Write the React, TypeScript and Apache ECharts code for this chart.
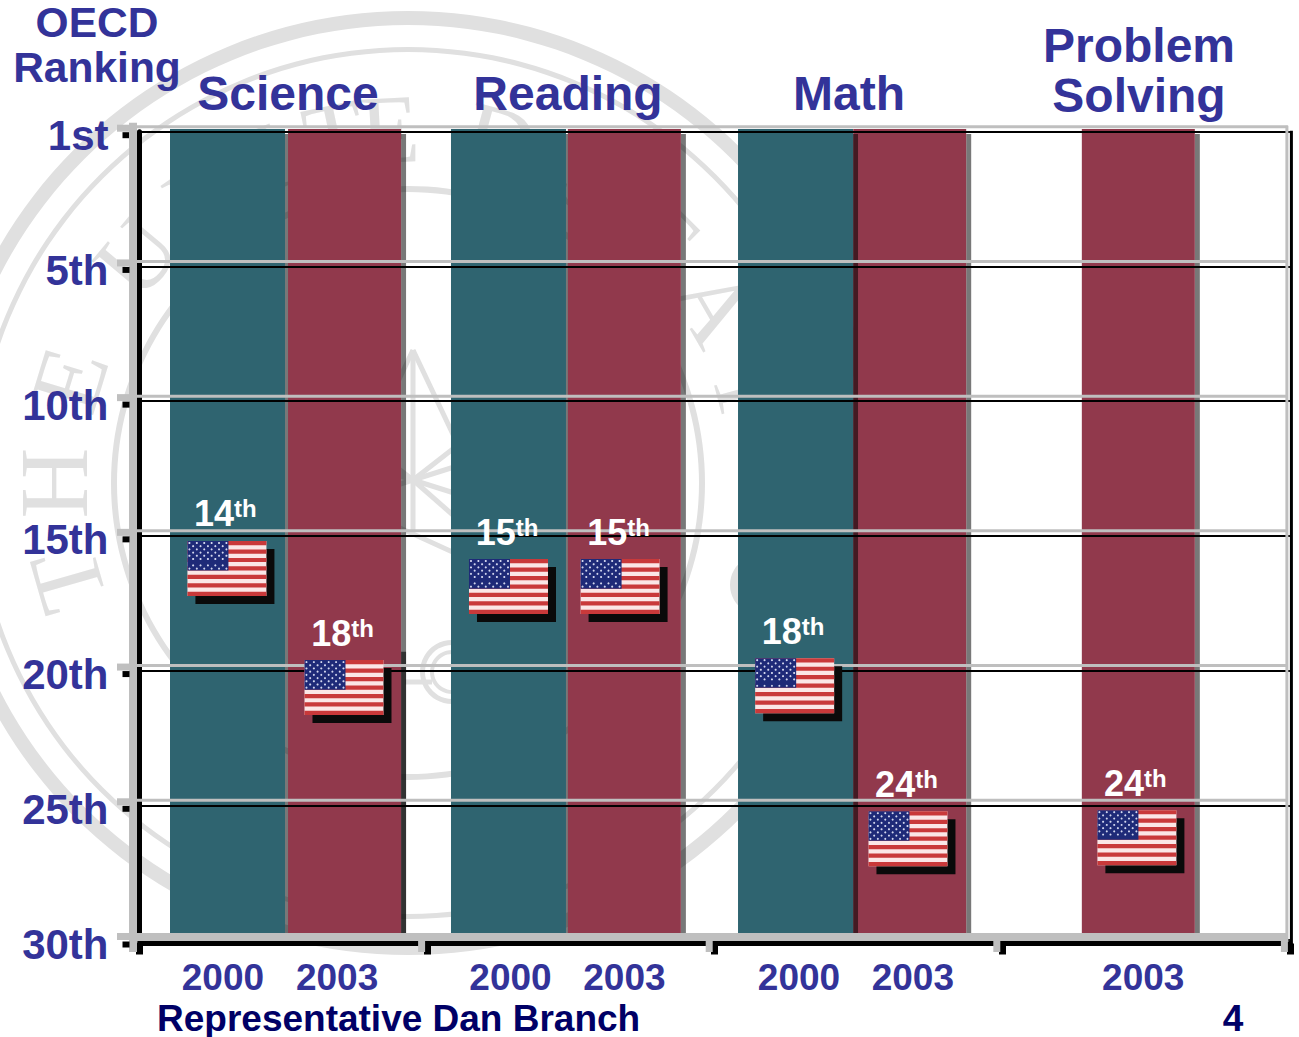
import React, { useEffect, useRef } from "react";
import * as echarts from "echarts";

const yTickValues = [0, 5, 10, 15, 20, 25, 30];
const yTickLabels = ["1st", "5th", "10th", "15th", "20th", "25th", "30th"];
const subjects = ["Science", "Reading", "Math"];
const subjectLast = ["Problem", "Solving"];
const axisHeading = ["OECD", "Ranking"];
const footerName = "Representative Dan Branch";
const footerPage = "4";

// x is measured in subject groups: 0..4 across the axis
const barYears = [2000, 2003, 2000, 2003, 2003, 2000, 2003];
const barX = [0.306, 0.713, 1.283, 1.686, 2.678, 2.281, 3.473];
const barDarkFrom = [null, 19.3, null, null, null, null, null];

const yearLabels = ["2000", "2003", "2000", "2003", "2000", "2003", "2003"];
const yearLabelX = [0.29, 0.687, 1.29, 1.686, 2.293, 2.689, 3.49];
const groupBounds = [0, 1, 2, 3, 4];

const rankLabels = [14, 18, 15, 15, 18, 24, 24];
const flagX = [0.304, 0.711, 1.283, 1.671, 2.278, 2.672, 3.468];
const flagRankPos = [15.19, 19.61, 15.86, 15.86, 19.54, 25.22, 25.18];

const sealLetters = [
  ["T", -106], ["H", -90], ["E", -73], ["U", -50], ["N", -35], ["I", -23], ["T", -12], ["E", -3], ["D", 15],
  ["S", 31], ["T", 45], ["A", 60], ["T", 75],
] as [string, number][];

const NAVY = "#333399";
const FOOT = "#000066";
const GRAY = "#bfbfbf";
const TEAL = "#2f6470";
const MAROON = "#91394c";
const SEAL = "#e0e0e0";
const FONT = '"Liberation Sans", Arial, sans-serif';

function renderBar(params: any, api: any) {
  const x = api.value(0);
  const i = params.dataIndex;
  const year = barYears[i];
  const c = api.coord([x, 0]);
  const b = api.coord([x, 30]);
  const w = year === 2000 ? 115 : 113;
  const left = c[0] - w / 2;
  const top = c[1] - 2.7;
  const children: any[] = [
    { type: "rect", shape: { x: left + w, y: top + 5, width: 5, height: b[1] - top - 5 }, style: { fill: "rgba(0,0,0,0.53)" } },
    { type: "rect", shape: { x: left, y: top, width: w, height: b[1] - top }, style: { fill: year === 2000 ? TEAL : MAROON } },
  ];
  const dark = barDarkFrom[i];
  if (dark != null) {
    const d = api.coord([x, dark]);
    children.unshift({ type: "rect", shape: { x: left + w, y: d[1], width: 5, height: b[1] - d[1] }, style: { fill: "rgba(0,0,0,0.58)" } });
  }
  return { type: "group", children };
}

function renderFrame(params: any, api: any) {
  const v = api.value(0);
  const p = api.coord([0, v]);
  const right = api.coord([4, v]);
  const children: any[] = [];
  const y = p[1];
  if (v < 30) {
    children.push({ type: "line", shape: { x1: 137, y1: y - 5, x2: right[0] - 2, y2: y - 5 }, style: { stroke: GRAY, lineWidth: 3 } });
  }
  children.push({ type: "rect", shape: { x: 122.5, y: y + 0.5 + (v === 30 ? 1 : 0), width: 7, height: 6 }, style: { fill: "#000" } });
  children.push({ type: "rect", shape: { x: 117, y: y - 7, width: 14, height: 7 }, style: { fill: GRAY } });
  if (params.dataIndex === 0) {
    const bottom = api.coord([0, 30])[1];
    children.push({ type: "rect", shape: { x: 129, y: y - 9, width: 8, height: bottom - y + 21 }, style: { fill: GRAY } });
    children.push({ type: "rect", shape: { x: 131, y: bottom - 7, width: right[0] - 131 - 2, height: 8 }, style: { fill: GRAY } });
    children.push({ type: "line", shape: { x1: right[0] - 3, y1: y - 6, x2: right[0] - 3, y2: bottom + 2 }, style: { stroke: GRAY, lineWidth: 3 } });
    children.push({ type: "line", shape: { x1: right[0] + 1.5, y1: y - 1, x2: right[0] + 1.5, y2: bottom + 8 }, style: { stroke: "#000", lineWidth: 3 } });
    for (const g of groupBounds.slice(1)) {
      const gx = api.coord([g, 30])[0];
      children.push({ type: "rect", shape: { x: gx - 9, y: bottom, width: 7, height: 12 }, style: { fill: GRAY } });
    }
  }
  return { type: "group", children };
}

function renderFlag(params: any, api: any) {
  const c = api.coord([api.value(0), api.value(1)]);
  const W = 79;
  const H = 55;
  const left = c[0] - W / 2;
  const top = c[1];
  const children: any[] = [
    { type: "rect", shape: { x: left + 8, y: top + 8, width: W, height: H }, style: { fill: "#0a0a0a" } },
    { type: "rect", shape: { x: left, y: top, width: W, height: H }, style: { fill: "#fbe6e6" } },
  ];
  const sh = H / 13;
  for (let s = 0; s < 13; s += 2) {
    children.push({ type: "rect", shape: { x: left, y: top + s * sh, width: W, height: sh }, style: { fill: "#c9393a" } });
  }
  const cw = 41;
  const ch = sh * 7;
  children.push({ type: "rect", shape: { x: left, y: top, width: cw, height: ch }, style: { fill: "#1e2a78" } });
  for (let r = 0; r < 9; r++) {
    for (let k = 0; k < 11; k++) {
      if ((r + k) % 2 === 0) {
        children.push({
          type: "circle",
          shape: { cx: left + 2 + (k * (cw - 4)) / 10, cy: top + 2 + (r * (ch - 4)) / 8, r: 1.05 },
          style: { fill: "#d3d7ee" },
        });
      }
    }
  }
  children.push({
    type: "text",
    x: c[0] - 1.5,
    y: top - 10,
    style: {
      text: `{d|${rankLabels[params.dataIndex]}}{s|th}`,
      textAlign: "center",
      textVerticalAlign: "bottom",
      rich: {
        d: { fontSize: 36, fontWeight: "bold", fontFamily: FONT, fill: "#fff", lineHeight: 34 },
        s: { fontSize: 24, fontWeight: "bold", fontFamily: FONT, fill: "#fff", lineHeight: 34, verticalAlign: "top" },
      },
    },
  });
  return { type: "group", children };
}

function sealElements() {
  const cx = 408;
  const cy = 483;
  const els: any[] = [
    { type: "ring", shape: { cx, cy, r: 472, r0: 458 }, style: { fill: SEAL } },
    { type: "ring", shape: { cx, cy, r: 436, r0: 431 }, style: { fill: SEAL } },
    { type: "ring", shape: { cx, cy, r: 297, r0: 291 }, style: { fill: SEAL } },
  ];
  for (const [ch, deg] of sealLetters) {
    const a = (deg * Math.PI) / 180;
    els.push({
      type: "text",
      x: cx + 354 * Math.sin(a),
      y: cy - 354 * Math.cos(a),
      rotation: -a,
      style: { text: ch, fill: SEAL, fontSize: 98, fontFamily: '"Liberation Serif", serif', textAlign: "center", textVerticalAlign: "middle" },
    });
  }
  const st = { stroke: SEAL, lineWidth: 5, fill: "none" };
  els.push({ type: "polyline", shape: { points: [[413, 350], [458, 445], [413, 480], [368, 445], [413, 350]] }, style: st });
  els.push({ type: "line", shape: { x1: 413, y1: 350, x2: 413, y2: 530 }, style: st });
  els.push({ type: "line", shape: { x1: 413, y1: 480, x2: 470, y2: 462 }, style: st });
  els.push({ type: "line", shape: { x1: 413, y1: 480, x2: 470, y2: 498 }, style: st });
  els.push({ type: "line", shape: { x1: 413, y1: 480, x2: 356, y2: 462 }, style: st });
  els.push({ type: "line", shape: { x1: 413, y1: 480, x2: 356, y2: 498 }, style: st });
  els.push({ type: "line", shape: { x1: 413, y1: 480, x2: 470, y2: 530 }, style: st });
  els.push({ type: "line", shape: { x1: 400, y1: 528, x2: 470, y2: 560 }, style: st });
  els.push({ type: "ring", shape: { cx: 452, cy: 672, r: 32, r0: 27 }, style: { fill: SEAL } });
  els.push({ type: "ring", shape: { cx: 452, cy: 672, r: 22, r0: 18 }, style: { fill: SEAL } });
  els.push({ type: "line", shape: { x1: 405, y1: 682, x2: 432, y2: 682 }, style: st });
  els.push({ type: "ring", shape: { cx: 760, cy: 585, r: 30, r0: 20 }, style: { fill: SEAL } });
  return els.map((e) => ({ ...e, z: -1, silent: true }));
}

function heading(text: string, cx: number, y: number, size: number, color = NAVY, align = "center") {
  return {
    type: "text",
    x: cx,
    y,
    z: 20,
    style: { text, fill: color, fontSize: size, fontWeight: "bold", fontFamily: FONT, textAlign: align, textVerticalAlign: "middle" },
  };
}

export default function App() {
  const ref = useRef<HTMLDivElement>(null);
  useEffect(() => {
    const chart = echarts.init(ref.current!, null, { renderer: "svg" });
    chart.setOption({
      animation: false,
      backgroundColor: "#fff",
      tooltip: { show: false },
      grid: { left: 139.5, top: 131.7, width: 1150.4, height: 808.3, containLabel: false },
      xAxis: {
        type: "value",
        min: 0,
        max: 4,
        interval: 1,
        offset: 3.5,
        z: 5,
        axisLine: { show: true, onZero: false, lineStyle: { color: "#000", width: 5 } },
        axisTick: { show: true, customValues: groupBounds, length: 11, lineStyle: { color: "#000", width: 7 } },
        axisLabel: {
          customValues: yearLabelX,
          formatter: (v: number) => yearLabels[yearLabelX.indexOf(v)],
          color: NAVY,
          fontSize: 37,
          fontWeight: "bold",
          fontFamily: FONT,
          margin: 15,
        },
        splitLine: { show: false },
      },
      yAxis: {
        type: "value",
        inverse: true,
        min: 0,
        max: 30,
        interval: 5,
        z: 5,
        axisLine: { show: true, onZero: false, lineStyle: { color: "#000", width: 5 } },
        axisTick: { show: false },
        axisLabel: {
          formatter: (v: number) => `{l|${yTickLabels[yTickValues.indexOf(v)]}}`,
          color: NAVY,
          margin: 31,
          rich: {
            l: { color: NAVY, fontSize: 42, fontWeight: "bold", fontFamily: FONT, lineHeight: 42, padding: [8, 0, 0, 0] },
          },
        },
        splitLine: { show: true, lineStyle: { color: "#000", width: 2 } },
      },
      graphic: {
        elements: [
          ...sealElements(),
          heading(axisHeading[0], 97, 22.5, 42.5),
          heading(axisHeading[1], 97, 67, 42.5),
          heading(subjects[0], 288, 93, 48),
          heading(subjects[1], 568, 93, 48),
          heading(subjects[2], 849, 93, 48),
          heading(subjectLast[0], 1139, 45, 48),
          heading(subjectLast[1], 1139, 95, 48),
          heading(footerName, 157, 1018, 37, FOOT, "left"),
          heading(footerPage, 1233, 1018, 37, FOOT),
        ],
      },
      series: [
        {
          type: "custom",
          name: "bars",
          coordinateSystem: "cartesian2d",
          z: 2,
          clip: false,
          renderItem: renderBar,
          data: barX.map((x) => [x, 30]),
        },
        {
          type: "custom",
          name: "frame",
          coordinateSystem: "cartesian2d",
          z: 6,
          clip: false,
          renderItem: renderFrame,
          encode: { x: 1, y: 0 },
          data: yTickValues.map((v) => [v, 0]),
        },
        {
          type: "custom",
          name: "rank",
          coordinateSystem: "cartesian2d",
          z: 8,
          clip: false,
          renderItem: renderFlag,
          data: flagX.map((x, i) => [x, flagRankPos[i]]),
        },
      ],
    });
    return () => chart.dispose();
  }, []);
  return <div ref={ref} style={{ position: "absolute", left: 0, top: 0, width: 1299, height: 1037 }} />;
}
